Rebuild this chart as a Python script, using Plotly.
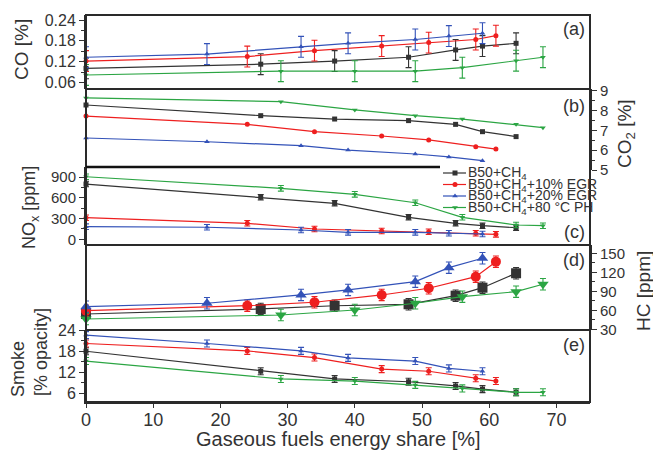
import plotly.graph_objects as go

# ---------------- data ----------------
series_names = ["B50+CH<sub>4</sub>", "B50+CH<sub>4</sub>+10% EGR",
                "B50+CH<sub>4</sub>+20% EGR", "B50+CH<sub>4</sub>+80 °C PH"]

x_black = [0, 26, 37, 48, 55, 59, 64]
x_red = [0, 24, 34, 44, 51, 58, 61]
x_blue = [0, 18, 32, 39, 49, 54, 59]
x_green = [0, 29, 40, 49, 56, 64, 68]

co_black = [0.101, 0.113, 0.122, 0.133, 0.154, 0.165, 0.173]
co_red = [0.122, 0.135, 0.152, 0.165, 0.175, 0.184, 0.195]
co_blue = [0.133, 0.142, 0.163, 0.173, 0.184, 0.194, 0.202]
co_green = [0.082, 0.093, 0.093, 0.093, 0.103, 0.123, 0.133]

co2_black = [8.29, 7.75, 7.58, 7.50, 7.31, 6.94, 6.69]
co2_red = [7.73, 7.31, 6.94, 6.72, 6.52, 6.18, 6.06]
co2_blue = [6.62, 6.43, 6.23, 6.01, 5.81, 5.66, 5.47]
co2_green = [8.65, 8.46, 8.04, 7.75, 7.58, 7.31, 7.14]

nox_black = [801, 609, 522, 319, 232, 197, 168]
nox_red = [313, 232, 149, 120, 110, 87, 72]
nox_blue = [183, 175, 135, 101, 101, 87, 77]
nox_green = [907, 739, 652, 530, 319, 207, 197]

hc_black = [54.5, 62.4, 67.5, 69.8, 83.4, 96.0, 118.8]
hc_red = [59.7, 67.6, 73.0, 84.5, 95.1, 113.4, 137.1]
hc_blue = [66.0, 71.4, 84.5, 92.4, 105.5, 127.6, 142.5]
hc_green = [46.6, 52.9, 60.8, 71.4, 81.8, 89.7, 101.4]

sm_black = [18.0, 12.3, 10.1, 9.3, 8.1, 7.2, 6.3]
sm_red = [20.2, 18.1, 16.2, 12.9, 12.3, 10.3, 9.5]
sm_blue = [22.6, 20.2, 18.1, 16.1, 15.2, 13.1, 12.3]
sm_green = [15.2, 10.1, 9.5, 8.4, 7.4, 6.3, 6.3]

co_err = 0.03
nox_err = 40
hc_err = 9
sm_err = 1.0

x_ticks = [0, 10, 20, 30, 40, 50, 60, 70]
co_ticks = [0.06, 0.12, 0.18, 0.24]
co2_ticks = [5, 6, 7, 8, 9]
nox_ticks = [0, 300, 600, 900]
hc_ticks = [30, 60, 90, 120, 150]
sm_ticks = [6, 12, 18, 24]

# ---------------- styles ----------------
colors = ["#333333", "#ee1f1f", "#3352b8", "#2ba543"]
symbols = ["square", "circle", "triangle-up", "triangle-down"]
FONT = "Liberation Sans, Arial, sans-serif"
W, H = 653, 451
L, R, T, B = 86, 590, 15, 402


def px(x):
    return (x - L) / (R - L)


def py(y):
    return (B - y) / (B - T)


xs = [x_black, x_red, x_blue, x_green]
panels = [
    ("y", [co_black, co_red, co_blue, co_green], co_err, 5),
    ("y2", [co2_black, co2_red, co2_blue, co2_green], None, 5),
    ("y3", [nox_black, nox_red, nox_blue, nox_green], nox_err, 5),
    ("y4", [hc_black, hc_red, hc_blue, hc_green], hc_err, 10),
    ("y5", [sm_black, sm_red, sm_blue, sm_green], sm_err, 5),
]

fig = go.Figure()
for yax, ys, err, msize in panels:
    for i in range(4):
        tr = dict(x=xs[i], y=ys[i], mode="lines+markers", xaxis="x", yaxis=yax,
                  line=dict(color=colors[i], width=1.2),
                  marker=dict(symbol=symbols[i], size=msize, color=colors[i]),
                  showlegend=False, cliponaxis=False)
        if err is not None:
            tr["error_y"] = dict(type="constant", value=err, color=colors[i],
                                 thickness=1.1, width=3)
        fig.add_trace(go.Scatter(**tr))

# manual legend (overlay axis in pixel coordinates)
leg_y = [173, 184.5, 196, 207.5]
for i in range(4):
    fig.add_trace(go.Scatter(x=[443, 455, 466], y=[leg_y[i]] * 3, mode="lines",
                             xaxis="x2", yaxis="y6",
                             line=dict(color=colors[i], width=1.2),
                             showlegend=False, hoverinfo="skip"))
    fig.add_trace(go.Scatter(x=[455], y=[leg_y[i]], mode="markers",
                             xaxis="x2", yaxis="y6",
                             marker=dict(symbol=symbols[i], size=5, color=colors[i]),
                             showlegend=False, hoverinfo="skip"))

annotations = []
for i in range(4):
    annotations.append(dict(x=px(467), y=py(leg_y[i]), xref="paper", yref="paper",
                            text=series_names[i], showarrow=False, xanchor="left",
                            yanchor="middle", borderpad=0,
                            font=dict(size=14, color="#333")))

for lab, yy in [("(a)", 29), ("(b)", 106), ("(c)", 232), ("(d)", 260), ("(e)", 345)]:
    annotations.append(dict(x=px(587), y=py(yy), xref="paper", yref="paper",
                            text=lab, showarrow=False, xanchor="right",
                            yanchor="middle", font=dict(size=18, color="#333")))

titles = [("CO [%]", 22, 50, 19), ("NO<sub>x</sub> [ppm]", 31, 208, 18),
          ("Smoke", 18, 369, 18), ("[% opacity]", 41, 352, 18),
          ("CO<sub>2</sub> [%]", 626, 134, 19), ("HC [ppm]", 643, 291, 19)]
for txt, xx, yy, fs in titles:
    annotations.append(dict(x=px(xx), y=py(yy), xref="paper", yref="paper",
                            text=txt, showarrow=False, textangle=-90,
                            xanchor="center", yanchor="middle",
                            font=dict(size=fs, color="#333")))

annotations.append(dict(x=px(338), y=py(439), xref="paper", yref="paper",
                        text="Gaseous fuels energy share [%]", showarrow=False,
                        xanchor="center", yanchor="middle",
                        font=dict(size=20, color="#333")))

edge = "#2a2a2a"
shapes = [
    dict(type="rect", xref="paper", yref="paper", x0=0, x1=1, y0=0, y1=1,
         line=dict(color=edge, width=2)),
    dict(type="line", xref="paper", yref="paper", x0=0, x1=1, y0=py(89), y1=py(89),
         line=dict(color=edge, width=2)),
    dict(type="line", xref="paper", yref="paper", x0=0, x1=px(440), y0=py(167), y1=py(167),
         line=dict(color="#111", width=2.5)),
    dict(type="line", xref="paper", yref="paper", x0=0, x1=1, y0=py(245), y1=py(245),
         line=dict(color=edge, width=2)),
    dict(type="line", xref="paper", yref="paper", x0=0, x1=1, y0=py(330), y1=py(330),
         line=dict(color=edge, width=2)),
]


def yaxis(domain, rng, ticks, side, minor_dtick, fs):
    return dict(domain=domain, range=rng, anchor="x", side=side,
                tickvals=ticks, ticks="outside", ticklen=5, tickwidth=1.2,
                tickcolor="#333", showgrid=False, zeroline=False,
                showline=True, linecolor=edge, linewidth=2,
                tickfont=dict(size=fs, color="#333"),
                minor=dict(dtick=minor_dtick, ticks="outside", ticklen=3,
                           tickcolor="#333", showgrid=False))


fig.update_layout(
    width=W, height=H,
    margin=dict(l=L, r=W - R, t=T, b=H - B, autoexpand=False),
    paper_bgcolor="white", plot_bgcolor="rgba(0,0,0,0)",
    font=dict(family=FONT, color="#333"),
    xaxis=dict(domain=[0, 1], range=[0, 75], anchor="y5", tickvals=x_ticks,
               ticks="outside", ticklen=4, tickwidth=1.2, tickcolor="#333",
               showgrid=False, zeroline=False, showline=True, linecolor=edge,
               linewidth=2, tickfont=dict(size=18, color="#333"),
               ticklabelstandoff=-4),
    yaxis=yaxis([py(89), 1], [0.0417, 0.2544], co_ticks, "left", 0.03, 16),
    yaxis2=yaxis([py(170), py(89)], [5, 9.1], co2_ticks, "right", 0.5, 15),
    yaxis3=yaxis([py(245), py(167)], [-82.6, 1048], nox_ticks, "left", 150, 15),
    yaxis4=yaxis([py(330), py(245)], [29.2, 163.4], hc_ticks, "right", 15, 15),
    yaxis5=yaxis([0, py(330)], [3.53, 24.05], sm_ticks, "left", 3, 16),
    xaxis2=dict(domain=[0, 1], range=[L, R], anchor="y6", visible=False),
    yaxis6=dict(domain=[0, 1], range=[B, T], anchor="x2", visible=False),
    annotations=annotations,
    shapes=shapes,
    showlegend=False,
)

fig.write_html("out.html", config={"displayModeBar": False},
               post_script="document.body.style.margin='0';document.body.style.overflow='hidden';")
